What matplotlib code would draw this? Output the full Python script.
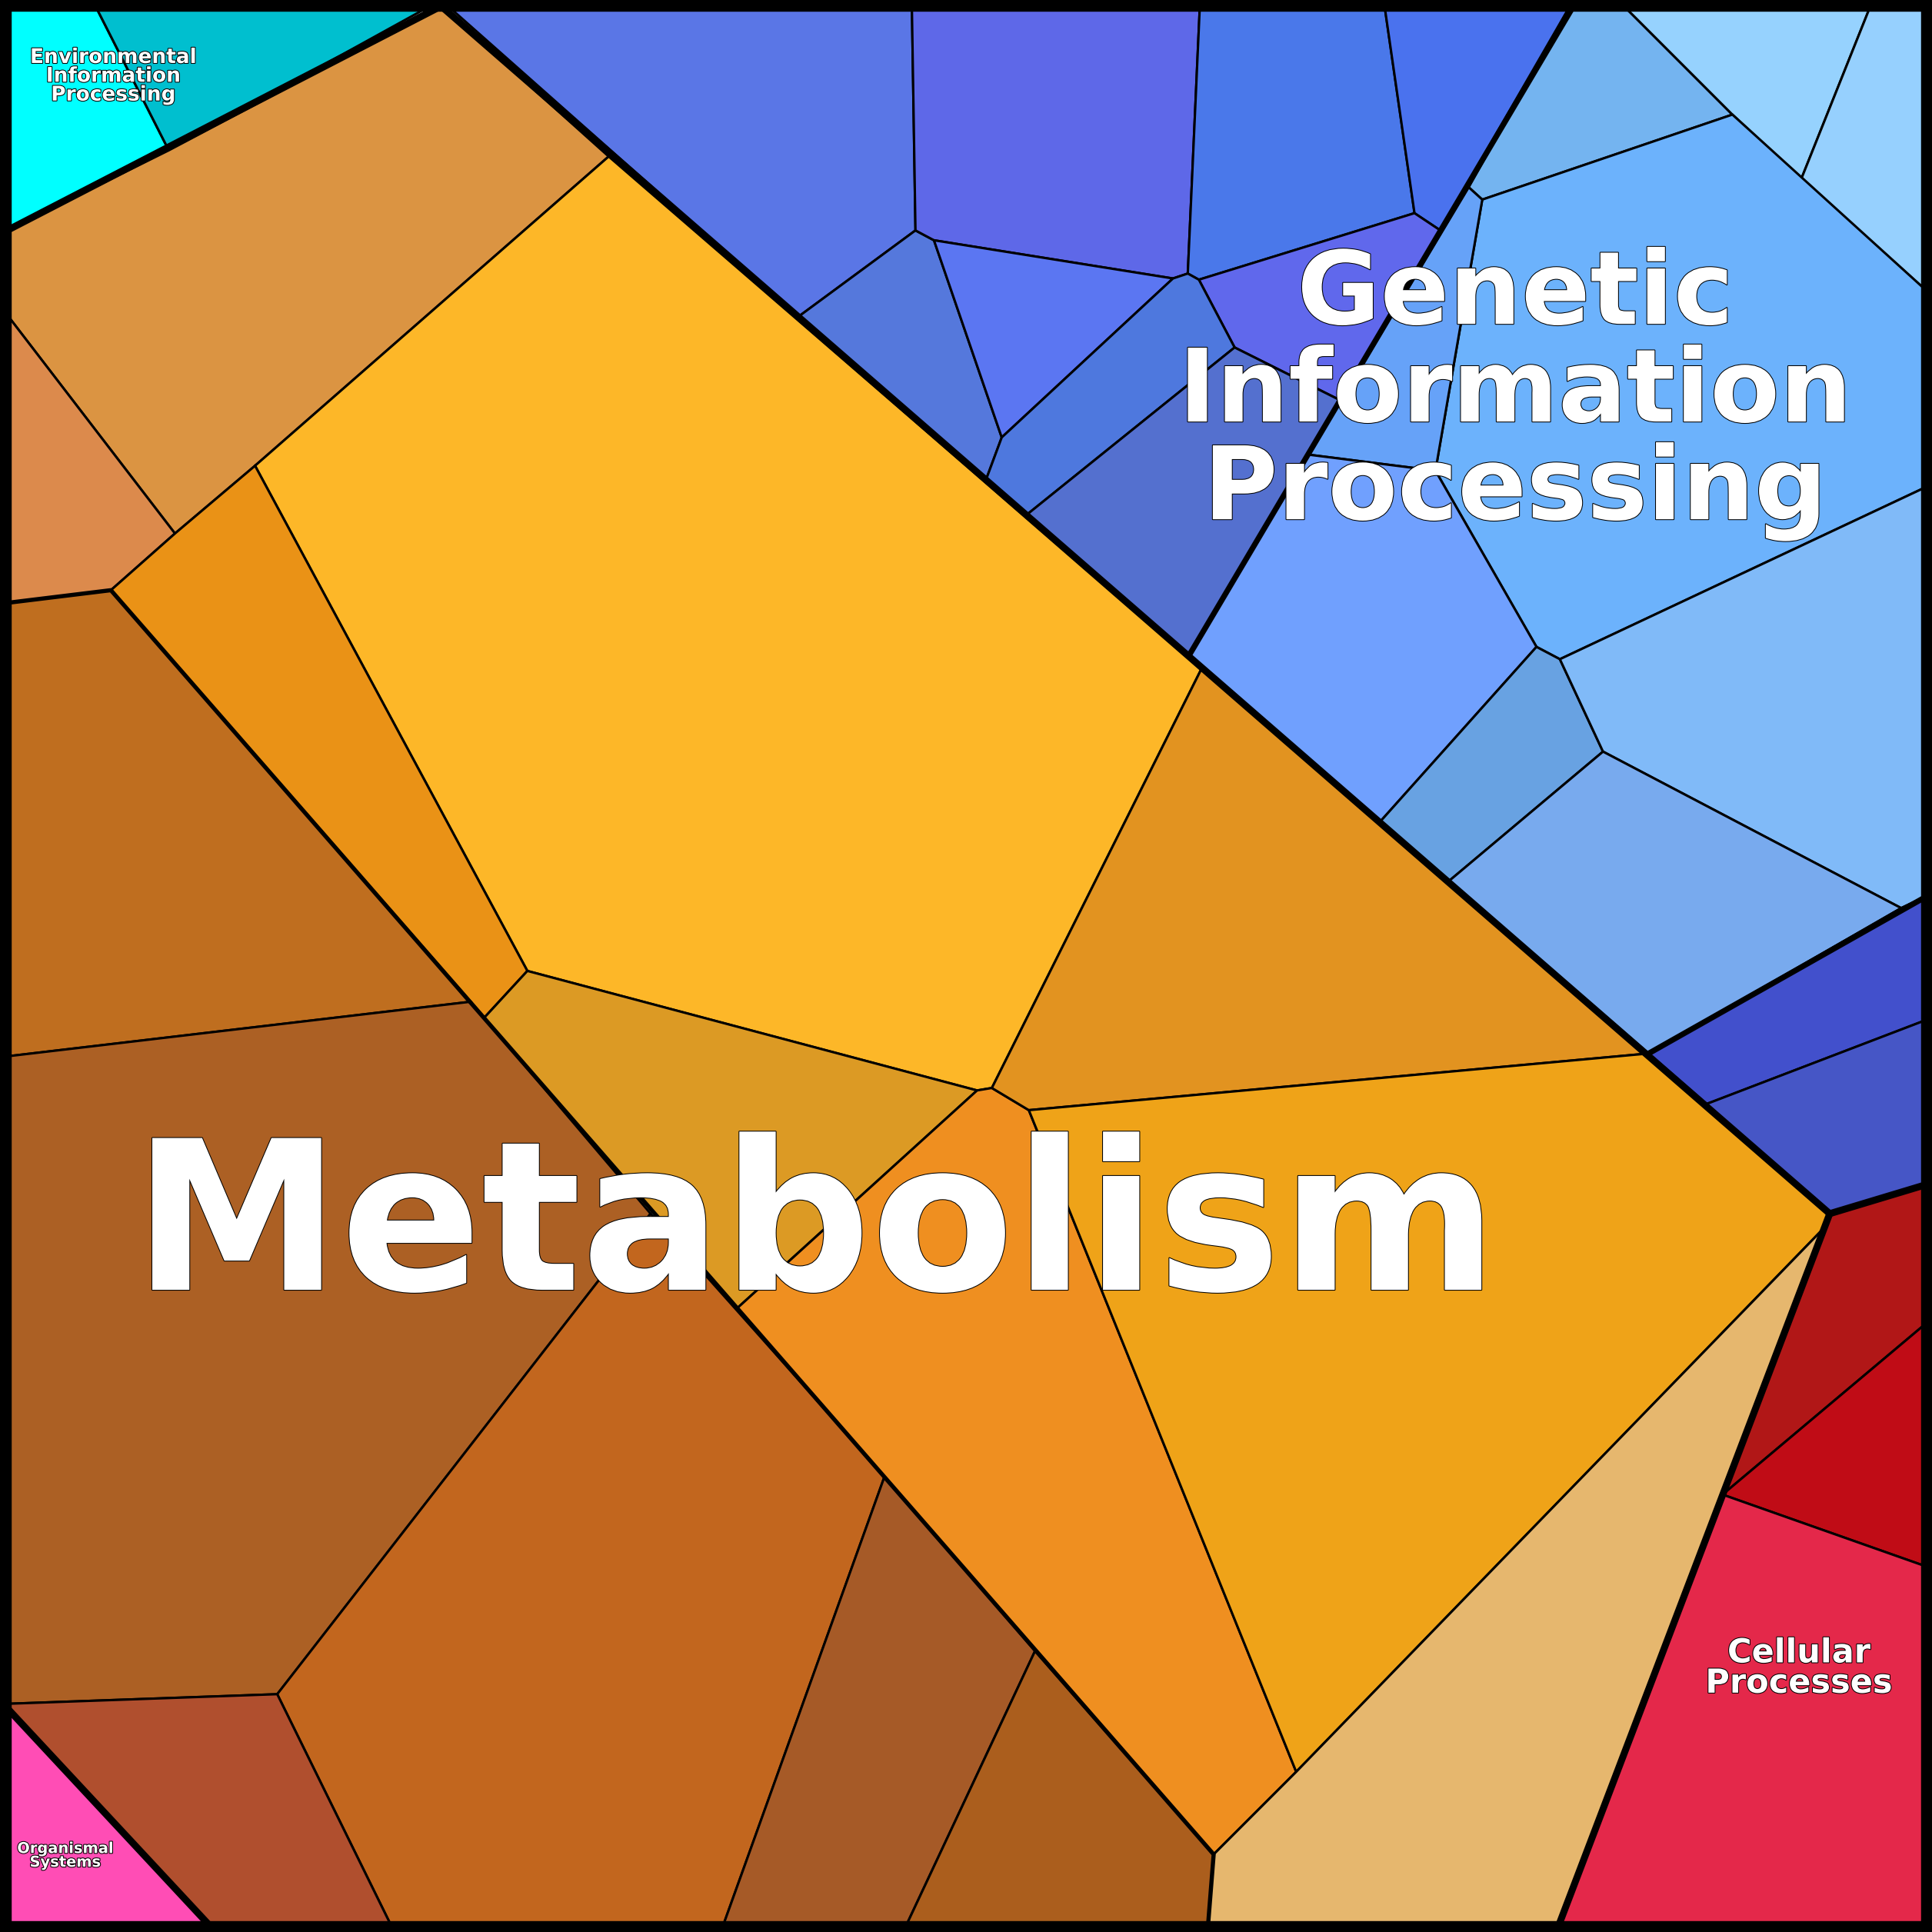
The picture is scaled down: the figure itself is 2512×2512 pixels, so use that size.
import matplotlib.pyplot as plt
from matplotlib.patches import Polygon
import matplotlib.patheffects as pe

# Voronoi treemap cells: (outline vertices in a 1568x1568 frame, fill colour)
cells = [
    ([(0,0),(75,0),(137,122),(0,190)], "#00FFFF"),
    ([(75,0),(358,0),(137,122)], "#00BFCF"),
    ([(0,190),(137,122),(358,5),(494,127),(207,378),(142,433),(0,248)], "#DB9442"),
    ([(0,248),(142,433),(90,479),(0,490)], "#DC8A4C"),
    ([(494,127),(975,543),(805,883),(793,885),(428,788),(207,378)], "#FDB728"),
    ([(207,378),(428,788),(393,826),(90,479),(142,433)], "#EA9216"),
    ([(0,490),(90,479),(382,813),(0,858)], "#BF6E1F"),
    ([(393,826),(428,788),(793,885),(598,1062)], "#DC9A24"),
    ([(0,858),(382,813),(528,985),(225,1375),(0,1383)], "#AC6024"),
    ([(528,985),(718,1198),(585,1568),(320,1568),(225,1375)], "#C2661E"),
    ([(0,1383),(225,1375),(320,1568),(175,1568)], "#B04F2E"),
    ([(0,1380),(175,1568),(0,1568)], "#FF4DB5"),
    ([(718,1198),(840,1340),(733,1568),(585,1568)], "#A65A27"),
    ([(840,1340),(985,1505),(980,1568),(733,1568)], "#AB5E1D"),
    ([(598,1062),(793,885),(805,883),(835,901),(1052,1438),(985,1505)], "#EF8F20"),
    ([(805,883),(975,543),(1338,855),(835,901)], "#E29320"),
    ([(835,901),(1338,855),(1485,985),(1480,997),(1052,1438)], "#EFA318"),
    ([(1480,997),(1052,1438),(985,1505),(980,1568),(1263,1568),(1485,985)], "#E6B76E"),
    ([(1485,985),(1568,960),(1568,1070),(1398,1213)], "#B11717"),
    ([(1398,1213),(1568,1070),(1568,1273)], "#C00C16"),
    ([(1398,1213),(1568,1273),(1568,1568),(1263,1568)], "#E4284A"),
    ([(358,0),(740,0),(743,187),(648,257)], "#5A76E6"),
    ([(648,257),(743,187),(758,195),(813,355),(800,390)], "#5578DC"),
    ([(740,0),(974,0),(964,222),(952,226),(758,195),(743,187)], "#5E68E8"),
    ([(758,195),(952,226),(813,355)], "#5B76F2"),
    ([(974,0),(1123,0),(1148,173),(973,227),(964,222)], "#4A78EA"),
    ([(1123,0),(1277,0),(1169,187),(1148,173)], "#4A72EE"),
    ([(973,227),(1148,173),(1169,187),(1088,325),(1002,282)], "#6068EC"),
    ([(800,390),(813,355),(952,226),(964,222),(973,227),(1002,282),(833,418)], "#4E78DE"),
    ([(833,418),(1002,282),(1088,325),(965,532)], "#5470CF"),
    ([(1277,0),(1313,0),(1406,93),(1203,162),(1192,152)], "#74B4F0"),
    ([(1313,0),(1520,0),(1462,145),(1406,93)], "#96D2FE"),
    ([(1520,0),(1568,0),(1568,240),(1462,145)], "#96D0FE"),
    ([(1203,162),(1406,93),(1568,240),(1568,393),(1266,535),(1247,525),(1165,382)], "#6CB2FC"),
    ([(1192,152),(1203,162),(1165,382),(1062,369)], "#66A2F8"),
    ([(1062,369),(1165,382),(1247,525),(1120,667),(965,532)], "#70A0FE"),
    ([(1120,667),(1247,525),(1266,535),(1301,610),(1176,715)], "#68A2E2"),
    ([(1266,535),(1568,393),(1568,725),(1543,737),(1301,610)], "#80BAF8"),
    ([(1176,715),(1301,610),(1543,737),(1338,855)], "#78AAEE"),
    ([(1338,855),(1543,737),(1568,725),(1568,826),(1385,896)], "#4250CC"),
    ([(1385,896),(1568,826),(1568,960),(1485,985)], "#4656C6"),
]

# group boundaries: (polyline, width)
borders = [
    ([(0,190),(358,5)], 5),
    ([(358,5),(1485,985)], 5),
    ([(1277,5),(965,532)], 4),
    ([(1338,855),(1568,725)], 4),
    ([(1485,985),(1568,960)], 5),
    ([(1485,985),(1263,1568)], 5),
    ([(0,1380),(175,1568)], 5),
    ([(0,490),(90,479),(985,1505),(980,1568)], 3),
]

labels = [
    ("Metabolism", 662, 1000, 195, 0.92),
    ("Genetic\nInformation\nProcessing", 1230, 320, 95, 1.0),
    ("Environmental\nInformation\nProcessing", 92, 62, 19, 0.92),
    ("Cellular\nProcesses", 1460, 1354, 31, 0.92),
    ("Organismal\nSystems", 53, 1506, 14, 0.92),
]

fig = plt.figure(figsize=(25.12, 25.12), dpi=100)
ax = fig.add_axes([0, 0, 1, 1])
ax.set_xlim(0, 1568)
ax.set_ylim(1568, 0)
ax.axis("off")

for verts, col in cells:
    ax.add_patch(Polygon(verts, closed=True, facecolor=col, edgecolor="black", lw=2.2))

for line, w in borders:
    xs, ys = zip(*line)
    ax.plot(xs, ys, color="black", lw=w * 1.3, solid_capstyle="round")

ax.add_patch(Polygon([(3, 3), (1565, 3), (1565, 1565), (3, 1565)], closed=True,
                     fill=False, edgecolor="black", lw=14))

for text, x, y, size, ls in labels:
    ax.text(x, y, text, ha="center", va="center", color="white", fontsize=size,
            fontweight="bold", linespacing=ls,
            path_effects=[pe.withStroke(linewidth=1.5, foreground="black")])

fig.savefig("out.png", dpi=100)
